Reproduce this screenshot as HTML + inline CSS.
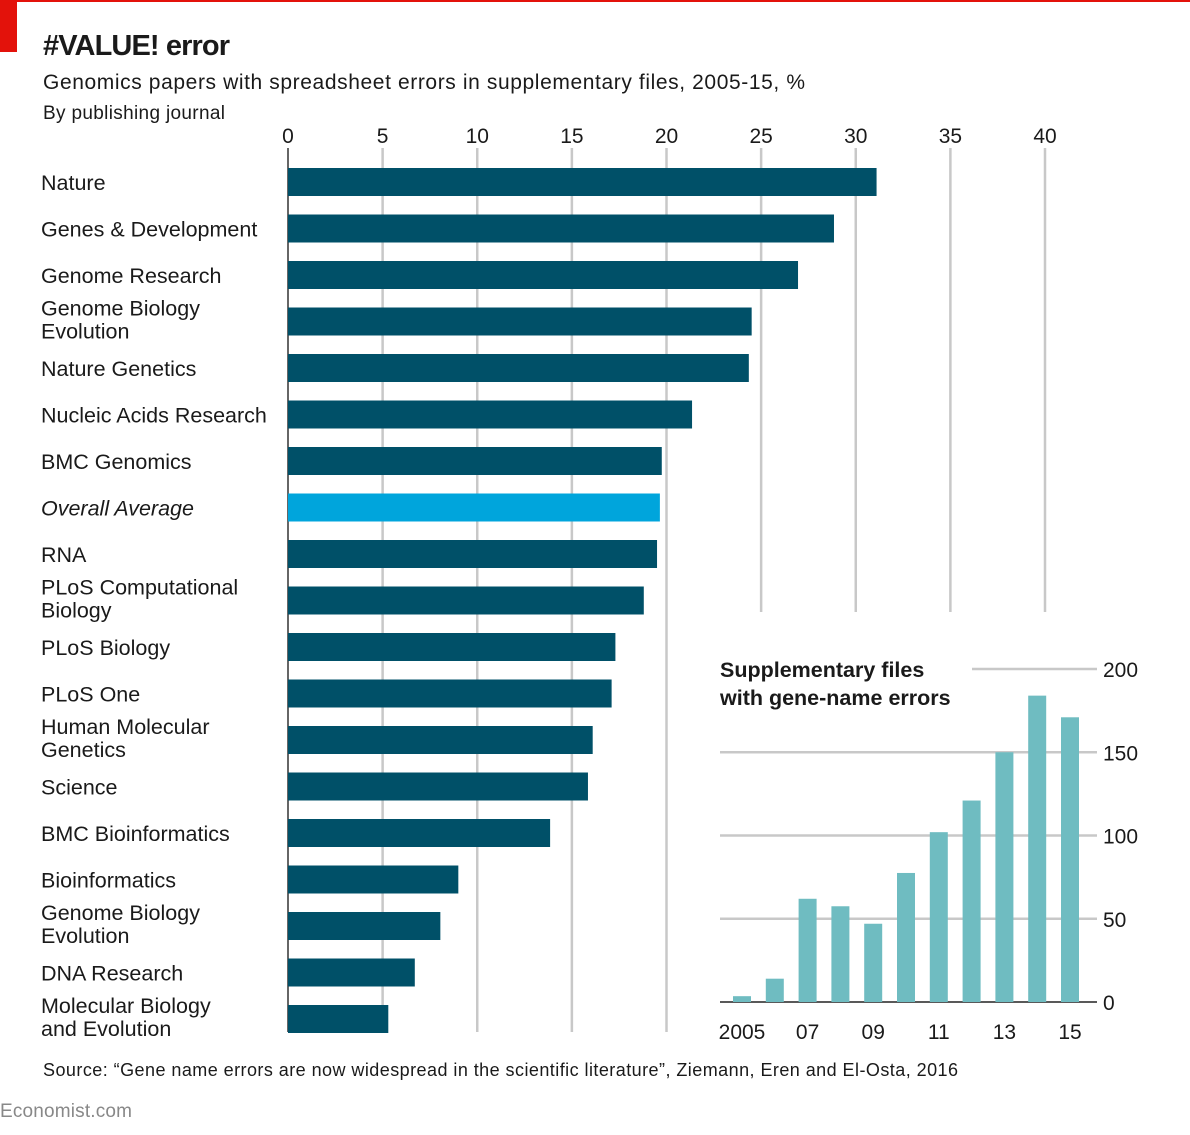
<!DOCTYPE html>
<html><head><meta charset="utf-8"><style>
body{margin:0;background:#fff;}
svg text{font-family:"Liberation Sans",sans-serif;fill:#1a1a1a;}
</style></head><body>
<svg width="1190" height="1130" xmlns="http://www.w3.org/2000/svg">
<rect x="0" y="0" width="1190" height="2" fill="#e3120b"/>
<rect x="0" y="0" width="17" height="52" fill="#e3120b"/>
<text x="43" y="55" font-size="29" font-weight="bold" textLength="187">#VALUE! error</text>
<text x="43" y="89" font-size="21" textLength="762">Genomics papers with spreadsheet errors in supplementary files, 2005-15, %</text>
<text x="43" y="119" font-size="19" textLength="182">By publishing journal</text>
<g id="main"></g>
<g id="inset"></g>
<text x="43" y="1076" font-size="18" textLength="915">Source: “Gene name errors are now widespread in the scientific literature”, Ziemann, Eren and El-Osta, 2016</text>
<text x="0" y="1117" font-size="19" fill="#888" style="fill:#888" textLength="132">Economist.com</text>
</svg>
<script>
const journals=["Nature","Genes & Development","Genome Research","Genome Biology|Evolution","Nature Genetics","Nucleic Acids Research","BMC Genomics","Overall Average","RNA","PLoS Computational|Biology","PLoS Biology","PLoS One","Human Molecular|Genetics","Science","BMC Bioinformatics","Bioinformatics","Genome Biology|Evolution","DNA Research","Molecular Biology|and Evolution"];
const pct=[31.1,28.85,26.95,24.5,24.35,21.35,19.75,19.65,19.5,18.8,17.3,17.1,16.1,15.85,13.85,9.0,8.05,6.7,5.3];
const xTicks=[0,5,10,15,20,25,30,35,40];
const years=["2005","06","07","08","09","10","11","12","13","14","15"];
const files=[3.5,14,62,57.5,47,77.5,102,121,150,184,171];
const yearLabels=["2005","","07","","09","","11","","13","","15"];
const yTicks=[0,50,100,150,200];
const NS="http://www.w3.org/2000/svg";
function mk(p,t,a){const e=document.createElementNS(NS,t);for(const k in a)e.setAttribute(k,a[k]);p.appendChild(e);return e;}
const X=v=>288+v*18.925;
const rowY=i=>182+i*46.5;
const main=document.getElementById('main');
xTicks.forEach(t=>{
  const g=mk(main,'line',{x1:X(t),x2:X(t),y1:148,y2:t>=25?612:1032,stroke:t===0?'#333':'#c8c8c8','stroke-width':t===0?1.5:2.5});
  
  
  const tx=mk(main,'text',{x:X(t),y:143,'font-size':21,'text-anchor':'middle'});
  
  
  tx.textContent=t;
});
journals.forEach((j,i)=>{
  const cy=rowY(i);
  const r=mk(main,'rect',{x:X(0),y:cy-14,width:X(pct[i])-X(0),height:28,fill:i===7?'#00a5dc':'#005068'});
  
  
  const parts=j.split('|');
  parts.forEach((p,k)=>{
    const y=parts.length===1?cy+8:cy-6+k*23;
    const t=mk(main,'text',{x:41,y:y,'font-size':21.5,'font-style':i===7?'italic':'normal'});
    
    
    t.textContent=p;
  });
});
const ins=document.getElementById('inset');
const Y=v=>1002-v*1.665;
const BX=i=>742+i*32.8;
yTicks.forEach(t=>{
  const l=mk(ins,'line',{x1:t===200?972:720,x2:1097,y1:Y(t),y2:Y(t),stroke:t===0?'#222':'#c8c8c8','stroke-width':t===0?1.5:2.5});
  
  
  const tx=mk(ins,'text',{x:1103,y:Y(t)+8,'font-size':21});
  
  
  tx.textContent=t;
});
files.forEach((v,i)=>{
  const r=mk(ins,'rect',{x:BX(i)-9,y:Y(v),width:18,height:Y(0)-Y(v),fill:'#6fbcc1'});
  
  
  if(yearLabels[i]){
    const t=mk(ins,'text',{x:BX(i),y:1039,'font-size':21,'text-anchor':'middle'});
    
    
    t.textContent=yearLabels[i];
  }
});
[["Supplementary files",677],["with gene-name errors",705]].forEach(([s,y])=>{
  const t=mk(ins,'text',{x:720,y:y,'font-size':21.5,'font-weight':'bold'});
  
  
  t.textContent=s;
});
</script>
</body></html>
